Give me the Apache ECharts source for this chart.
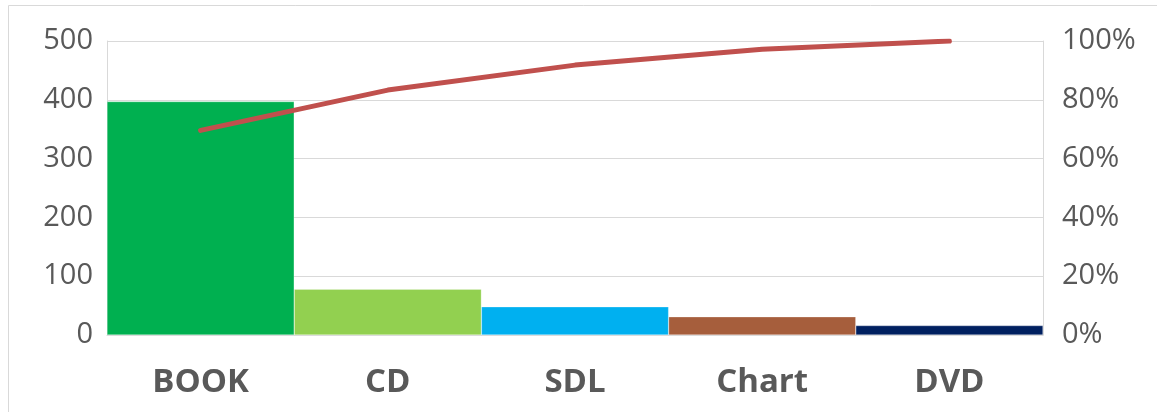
<!DOCTYPE html>
<html>
<head>
<meta charset="utf-8">
<script src="https://cdn.jsdelivr.net/npm/echarts@6/dist/echarts.min.js"></script>
<style>
  html, body { margin: 0; padding: 0; background: #fff; }
  #chart { width: 1157px; height: 412px; }
</style>
</head>
<body>
<div id="chart"></div>
<script>
// data
var categories = ['BOOK', 'CD', 'SDL', 'Chart', 'DVD'];
var counts = [397, 78, 48, 31, 16];
var cumPercent = [69.6, 83.3, 91.8, 97.2, 100];
var barColors = ['#00B050', '#92D050', '#00B0F0', '#A65E3C', '#002060'];

var myChart = echarts.init(document.getElementById('chart'));
var font = '"Open Sans", "Noto Sans", sans-serif';

var option = {
    animation: false,
    graphic: [{
        type: 'rect',
        shape: { x: 8.5, y: 5.5, width: 1200, height: 500 },
        style: { fill: 'none', stroke: '#D9D9D9', lineWidth: 1 },
        silent: true
    }],
    grid: {
        left: 107,
        right: 114,
        top: 41,
        bottom: 77
    },
    xAxis: [{
        type: 'category',
        data: categories,
        axisTick: { show: false },
        axisLine: { lineStyle: { color: '#D9D9D9', width: 1 } },
        axisLabel: {
            color: '#595959',
            fontFamily: font,
            fontWeight: 'bold',
            fontSize: 33,
            margin: 31
        }
    }],
    yAxis: [{
        type: 'value',
        min: 0,
        max: 500,
        interval: 100,
        axisLine: { show: true, lineStyle: { color: '#D9D9D9' } },
        axisTick: { show: false },
        splitLine: { lineStyle: { color: '#D9D9D9', width: 1 } },
        axisLabel: {
            color: '#595959',
            fontFamily: font,
            fontSize: 29,
            margin: 14,
            padding: [6, 0, 0, 0]
        }
    }, {
        type: 'value',
        min: 0,
        max: 100,
        interval: 20,
        axisLine: { show: true, lineStyle: { color: '#D9D9D9' } },
        axisTick: { show: false },
        splitLine: { show: false },
        axisLabel: {
            color: '#595959',
            fontFamily: font,
            fontSize: 29,
            margin: 19,
            padding: [6, 0, 0, 0],
            formatter: '{value}%'
        }
    }],
    series: [{
        type: 'bar',
        data: counts.map(function (v, i) {
            return { value: v, itemStyle: { color: barColors[i] } };
        }),
        barCategoryGap: 0,
        itemStyle: { borderColor: 'rgba(255,255,255,0.5)', borderWidth: 0.5 }
    }, {
        type: 'line',
        yAxisIndex: 1,
        data: cumPercent,
        symbol: 'none',
        lineStyle: { color: '#C0504D', width: 5, cap: 'round', join: 'round' },
        z: 5
    }]
};

myChart.setOption(option);
</script>
</body>
</html>
